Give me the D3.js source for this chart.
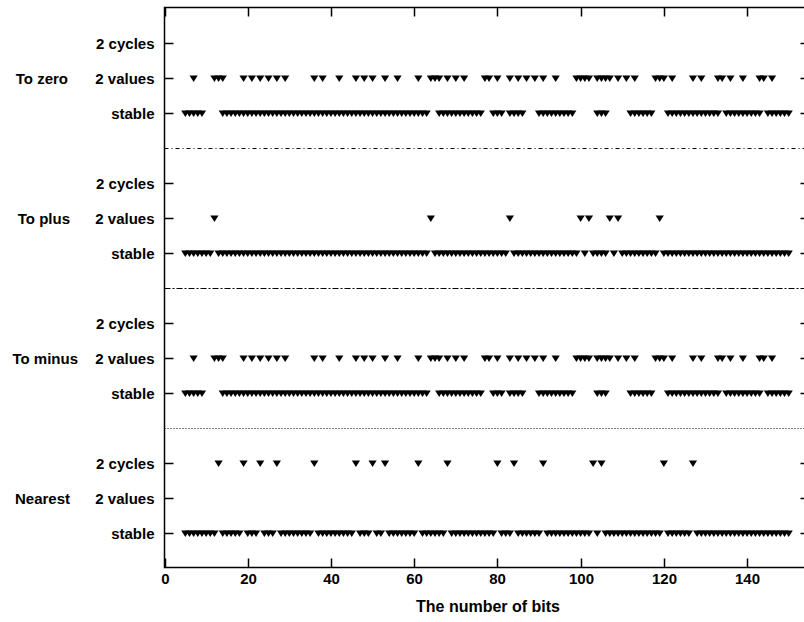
<!DOCTYPE html>
<html>
<head>
<meta charset="utf-8">
<script src="https://cdn.jsdelivr.net/npm/d3@7"></script>
<style>
  body { margin: 0; background: #fff; }
  text { font-family: "Liberation Sans", Arial, sans-serif; font-weight: bold; }
</style>
</head>
<body>
<script>
// rounding modes, bottom to top, and the three outcomes in each
var groups = ["Nearest", "To minus", "To plus", "To zero"];
var groupLabelEnd = [70, 78, 70, 68];
var outcomes = ["stable", "2 values", "2 cycles"];
var xTicks = [0, 20, 40, 60, 80, 100, 120, 140];

// bits where each outcome shows a marker
var nearestStable = [5,6,7,8,9,10,11,12,14,15,16,17,18,20,21,22,24,25,26,28,29,30,31,32,33,34,35,
  37,38,39,40,41,42,43,44,45,47,48,49,51,52,54,55,56,57,58,59,60,62,63,64,65,66,67,69,70,71,72,73,
  74,75,76,77,78,79,81,82,83,85,86,87,88,89,90,92,93,94,95,96,97,98,99,100,101,102,104,106,107,108,
  109,110,111,112,113,114,115,116,117,118,119,121,122,123,124,125,126,128,129,130,131,132,133,134,
  135,136,137,138,139,140,141,142,143,144,145,146,147,148,149,150];
var nearestValues = [];
var nearestCycles = [13,19,23,27,36,46,50,53,61,68,80,84,91,103,105,120,127];

var toMinusStable = [5,6,7,8,9,14,15,16,17,18,19,20,21,22,23,24,25,26,27,28,29,30,31,32,33,34,35,36,
  37,38,39,40,41,42,43,44,45,46,47,48,49,50,51,52,53,54,55,56,57,58,59,60,61,62,63,66,67,68,69,70,
  71,72,73,74,75,76,79,80,81,83,84,85,86,90,91,92,93,94,95,96,97,98,104,105,106,112,113,114,115,116,
  117,121,122,123,124,125,126,127,128,129,130,131,132,133,135,136,137,138,139,140,141,142,143,145,
  146,147,148,149,150];
var toMinusValues = [7,12,13,14,19,21,23,25,27,29,36,38,42,46,48,50,53,56,61,64,65,66,68,70,72,77,78,
  80,83,85,87,89,91,94,99,100,101,102,104,105,106,107,109,111,113,118,119,120,122,127,129,133,134,
  136,139,143,144,146];
var toMinusCycles = [];

var toPlusStable = [5,6,7,8,9,10,11,13,14,15,16,17,18,19,20,21,22,23,24,25,26,27,28,29,30,31,32,33,34,
  35,36,37,38,39,40,41,42,43,44,45,46,47,48,49,50,51,52,53,54,55,56,57,58,59,60,61,62,63,65,66,67,68,
  69,70,71,72,73,74,75,76,77,78,79,80,81,82,84,85,86,87,88,89,90,91,92,93,94,95,96,97,98,99,101,103,
  104,105,106,108,110,111,112,113,114,115,116,117,118,120,121,122,123,124,125,126,127,128,129,130,
  131,132,133,134,135,136,137,138,139,140,141,142,143,144,145,146,147,148,149,150];
var toPlusValues = [12,64,83,100,102,107,109,119];
var toPlusCycles = [];

var toZeroStable = toMinusStable.slice();   // same pattern as "To minus" in the picture
var toZeroValues = toMinusValues.slice();
var toZeroCycles = [];

var series = [
  {group: 0, outcome: 0, bits: nearestStable},
  {group: 0, outcome: 1, bits: nearestValues},
  {group: 0, outcome: 2, bits: nearestCycles},
  {group: 1, outcome: 0, bits: toMinusStable},
  {group: 1, outcome: 1, bits: toMinusValues},
  {group: 1, outcome: 2, bits: toMinusCycles},
  {group: 2, outcome: 0, bits: toPlusStable},
  {group: 2, outcome: 1, bits: toPlusValues},
  {group: 2, outcome: 2, bits: toPlusCycles},
  {group: 3, outcome: 0, bits: toZeroStable},
  {group: 3, outcome: 1, bits: toZeroValues},
  {group: 3, outcome: 2, bits: toZeroCycles}
];

const w = 804;
const h = 622;
const plotLeft = 164.5, plotRight = 809.5, plotTop = 7.5, plotBottom = 567.5;
const tickLen = 9;
const fontSize = 15;

// each group takes 4 units: 3 outcome rows and one separator
const rowY = (g, o) => g * 4 + o + 1;

const x = d3.scaleLinear().domain([0, 155]).range([plotLeft, plotRight]);
const y = d3.scaleLinear().domain([0, 16]).range([plotBottom, plotTop]);

const svg = d3.select("body")
  .append("svg")
  .attr("width", w)
  .attr("height", h);

// separators between the rounding modes
var sepStyles = ["1,2", "6,2,2,2", "4,3,1,3"];
svg.selectAll("line.sep")
  .data(sepStyles)
  .enter()
  .append("line")
  .attr("class", "sep")
  .attr("x1", plotLeft)
  .attr("x2", plotRight)
  .attr("y1", (d, i) => Math.round(y((i + 1) * 4)) + 0.5)
  .attr("y2", (d, i) => Math.round(y((i + 1) * 4)) + 0.5)
  .attr("stroke", "#000")
  .attr("stroke-width", 1)
  .attr("stroke-dasharray", d => d);

// markers: downward triangles, flat top
var points = [];
series.forEach(s => {
  s.bits.forEach(b => points.push({x: b, y: rowY(s.group, s.outcome)}));
});
const triDown = {
  draw: (ctx, size) => {
    ctx.moveTo(-4.1, -3);
    ctx.lineTo(4.1, -3);
    ctx.lineTo(0, 3.6);
    ctx.closePath();
  }
};
const tri = d3.symbol().type(triDown);
svg.selectAll("path.pt")
  .data(points)
  .enter()
  .append("path")
  .attr("class", "pt")
  .attr("d", tri)
  .attr("transform", d => "translate(" + x(d.x) + "," + (y(d.y) + 1) + ")")
  .attr("fill", "#000");

// frame
svg.append("rect")
  .attr("x", plotLeft)
  .attr("y", plotTop)
  .attr("width", plotRight - plotLeft)
  .attr("height", plotBottom - plotTop)
  .attr("fill", "none")
  .attr("stroke", "#000")
  .attr("stroke-width", 1.5);

// x ticks (bottom, mirrored on top)
var xt = svg.append("g");
xTicks.forEach(t => {
  var px = Math.round(x(t)) + 0.5;
  xt.append("line").attr("x1", px).attr("x2", px).attr("y1", plotBottom).attr("y2", plotBottom - tickLen)
    .attr("stroke", "#000").attr("stroke-width", 1.5);
  xt.append("line").attr("x1", px).attr("x2", px).attr("y1", plotTop).attr("y2", plotTop + tickLen)
    .attr("stroke", "#000").attr("stroke-width", 1.5);
  xt.append("text").attr("x", px).attr("y", plotBottom + 16)
    .attr("text-anchor", "middle").attr("font-size", fontSize).text(t);
});

// y ticks and labels
var yRows = [];
groups.forEach((g, gi) => {
  outcomes.forEach((o, oi) => yRows.push({group: g, outcome: o, gi: gi, oi: oi}));
});
var yt = svg.append("g");
yRows.forEach(r => {
  var py = Math.round(y(rowY(r.gi, r.oi))) + 0.5;
  yt.append("line").attr("x1", plotLeft).attr("x2", plotLeft + tickLen).attr("y1", py).attr("y2", py)
    .attr("stroke", "#000").attr("stroke-width", 1.5);
  yt.append("line").attr("x1", plotRight).attr("x2", plotRight - tickLen).attr("y1", py).attr("y2", py)
    .attr("stroke", "#000").attr("stroke-width", 1.5);
  yt.append("text").attr("x", plotLeft - 10).attr("y", py + 5)
    .attr("text-anchor", "end").attr("font-size", fontSize).text(r.outcome);
  if (r.oi == 1) {
    yt.append("text").attr("x", groupLabelEnd[r.gi]).attr("y", py + 5)
      .attr("text-anchor", "end").attr("font-size", fontSize).text(r.group);
  }
});

svg.append("text")
  .attr("x", 488)
  .attr("y", 612)
  .attr("text-anchor", "middle")
  .attr("font-size", 16)
  .text("The number of bits");
</script>
</body>
</html>
